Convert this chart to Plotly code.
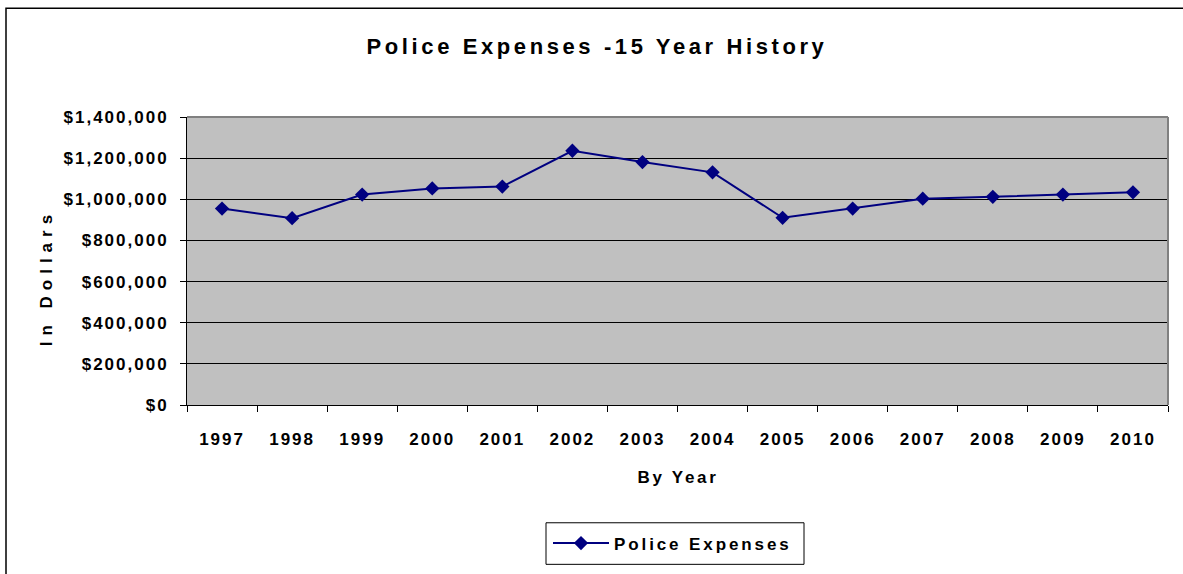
import plotly.graph_objects as go

years = ["1997", "1998", "1999", "2000", "2001", "2002", "2003",
         "2004", "2005", "2006", "2007", "2008", "2009", "2010"]
expenses = [955000, 908000, 1023000, 1053000, 1062000, 1236000, 1181000,
            1131000, 910000, 955000, 1003000, 1012000, 1023000, 1034000]
y_ticks = [0, 200000, 400000, 600000, 800000, 1000000, 1200000, 1400000]
y_tick_text = ["$0", "$200,000", "$400,000", "$600,000", "$800,000",
               "$1,000,000", "$1,200,000", "$1,400,000"]

W, H = 1183, 574
L, R, T, B = 187, 1168, 117, 408   # plot area in px


def px_x(p):
    return (p - L) / (R - L)


def px_y(p):
    return (B - p) / (B - T)


FONT = "Liberation Sans, Arial, sans-serif"
NAVY = "#000080"

fig = go.Figure()
fig.add_trace(go.Scatter(
    x=years, y=expenses, mode="lines+markers", name="Police Expenses",
    line=dict(color=NAVY, width=2),
    marker=dict(symbol="diamond", size=11, color=NAVY),
))

shapes = [
    dict(type="rect", xref="paper", yref="paper",
         x0=px_x(6), x1=px_x(1195), y0=px_y(7), y1=px_y(590),
         line=dict(color="black", width=1.5), layer="below"),
    dict(type="line", xref="paper", yref="paper", x0=0, x1=1, y0=1, y1=1,
         line=dict(color="#808080", width=2), layer="above"),
    dict(type="line", xref="paper", yref="paper", x0=1, x1=1, y0=0, y1=1,
         line=dict(color="#808080", width=2), layer="above"),
    dict(type="rect", xref="paper", yref="paper",
         x0=px_x(546), x1=px_x(804), y0=px_y(527), y1=px_y(569),
         line=dict(color="black", width=1), fillcolor="white", layer="below"),
]

annotations = [
    dict(text="In Dollars", xref="paper", yref="paper", x=px_x(46), y=px_y(280),
         textangle=-90, showarrow=False, xanchor="center", yanchor="middle",
         font=dict(family=FONT, size=17, color="black", weight="bold")),
    dict(text="By Year", xref="paper", yref="paper", x=px_x(678), y=px_y(481),
         showarrow=False, xanchor="center", yanchor="middle",
         font=dict(family=FONT, size=17, color="black", weight="bold")),
]

fig.update_layout(
    width=W, height=H,
    margin=dict(l=L, r=W - R, t=T, b=H - B, pad=0),
    paper_bgcolor="white",
    plot_bgcolor="#C0C0C0",
    title=dict(text="Police Expenses -15 Year History", x=px_x(597), xref="paper",
               xanchor="center", y=1 - 46 / H, yref="container", yanchor="middle",
               font=dict(family=FONT, size=22, color="black", weight="bold")),
    showlegend=True,
    legend=dict(x=px_x(548), y=px_y(548), xanchor="left", yanchor="middle",
                bgcolor="rgba(0,0,0,0)", borderwidth=0, itemwidth=56,
                font=dict(family=FONT, size=17, color="black", weight="bold")),
    shapes=shapes,
    annotations=annotations,
    xaxis=dict(
        type="category", range=[-0.5, len(years) - 0.5],
        showline=True, linecolor="black", linewidth=1,
        ticks="outside", ticklen=6, tickcolor="black", tickson="boundaries",
        showgrid=False, ticklabelstandoff=19,
        tickfont=dict(family=FONT, size=17, color="black", weight="bold"),
        fixedrange=True,
    ),
    yaxis=dict(
        range=[0, 1400000], tickvals=y_ticks, ticktext=y_tick_text,
        showline=True, linecolor="black", linewidth=1,
        ticks="outside", ticklen=6, tickcolor="black",
        showgrid=True, gridcolor="black", gridwidth=1, zeroline=False,
        ticklabelstandoff=8,
        tickfont=dict(family=FONT, size=17, color="black", weight="bold"),
        fixedrange=True,
    ),
)

post = """
var s = document.createElement('style');
s.textContent = '.gtitle{letter-spacing:3.6px} .xtick text,.ytick text{letter-spacing:2px} ' +
  '.annotation[data-index="0"] text{letter-spacing:6px} .annotation[data-index="1"] text{letter-spacing:2.7px} ' +
  '.legendtext{letter-spacing:2.9px} .legend g{clip-path:none !important}';
document.head.appendChild(s);
"""

fig.write_html("out.html", post_script=post)
